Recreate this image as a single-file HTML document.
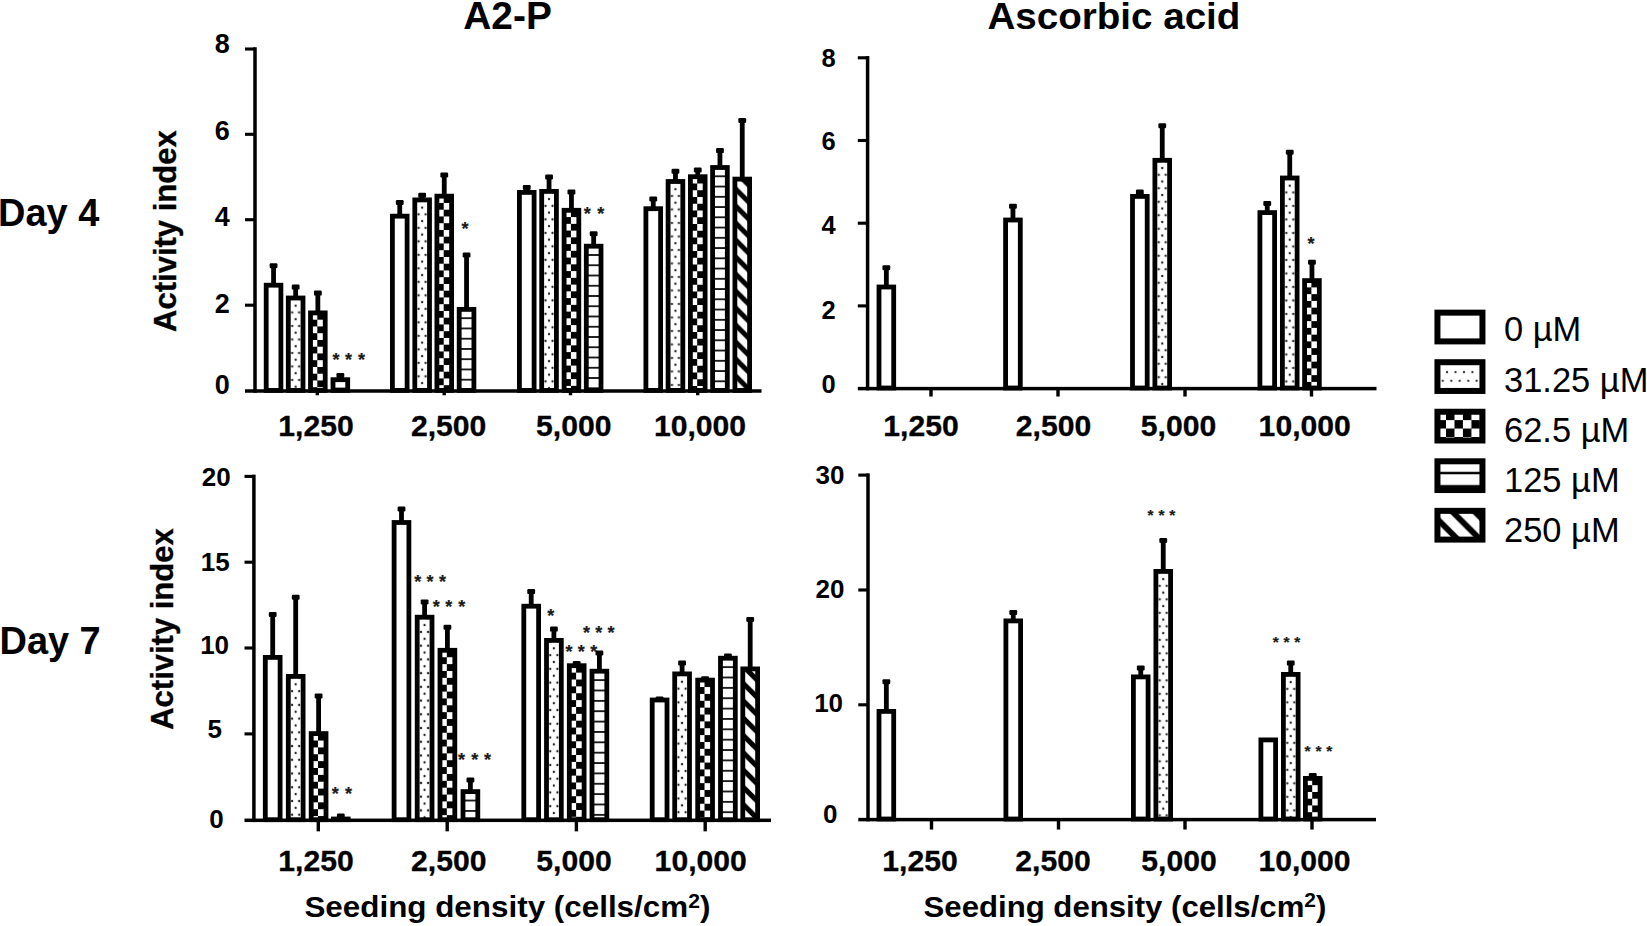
<!DOCTYPE html>
<html lang="en"><head><meta charset="utf-8"><title>Activity index vs seeding density</title>
<style>
html,body{margin:0;padding:0;background:#fff;}
body{width:1647px;height:926px;overflow:hidden;font-family:'Liberation Sans', Arial, Helvetica, sans-serif;}
svg{display:block;font-family:'Liberation Sans', Arial, Helvetica, sans-serif;}
</style></head><body>
<svg width="1647" height="926" viewBox="0 0 1647 926">
<defs>
<pattern id="dots" patternUnits="userSpaceOnUse" x="2.75" y="10.10" width="7.000" height="13.500">
  <rect width="7.000" height="13.500" fill="#fff"/>
  <circle cx="0" cy="0" r="1.15" fill="#222"/><circle cx="7.000" cy="0" r="1.15" fill="#222"/>
  <circle cx="0" cy="13.500" r="1.15" fill="#222"/><circle cx="7.000" cy="13.500" r="1.15" fill="#222"/>
  <circle cx="3.500" cy="6.750" r="1.15" fill="#222"/>
</pattern>
<pattern id="chk" patternUnits="userSpaceOnUse" x="2.45" y="2.45" width="13.500" height="13.500">
  <rect width="13.500" height="13.500" fill="#000"/>
  <rect x="0" y="0" width="6.750" height="6.750" fill="#fff"/>
  <rect x="6.750" y="6.750" width="6.750" height="6.750" fill="#fff"/>
</pattern>
<pattern id="hl" patternUnits="userSpaceOnUse" x="0" y="0.95" width="20" height="10.250">
  <rect width="20" height="10.250" fill="#fff"/>
  <rect x="0" y="-0.9" width="20" height="1.8" fill="#111"/>
  <rect x="0" y="9.350" width="20" height="1.8" fill="#111"/>
</pattern>
<pattern id="dg" patternUnits="userSpaceOnUse" x="0" y="9.15" width="17.000" height="17.000">
  <rect width="17.000" height="17.000" fill="#fff"/>
  <path d="M-20,-74.50 L40,-14.50 L40,-7.50 L-20,-67.50 Z M-20,-57.50 L40,2.50 L40,9.50 L-20,-50.50 Z M-20,-40.50 L40,19.50 L40,26.50 L-20,-33.50 Z M-20,-23.50 L40,36.50 L40,43.50 L-20,-16.50 Z M-20,-6.50 L40,53.50 L40,60.50 L-20,0.50 Z M-20,10.50 L40,70.50 L40,77.50 L-20,17.50 Z" fill="#000"/>
</pattern>
<pattern id="dots3" patternUnits="userSpaceOnUse" x="2.63" y="10.27" width="7.119" height="13.729">
  <rect width="7.119" height="13.729" fill="#fff"/>
  <circle cx="0" cy="0" r="1.15" fill="#222"/><circle cx="7.119" cy="0" r="1.15" fill="#222"/>
  <circle cx="0" cy="13.729" r="1.15" fill="#222"/><circle cx="7.119" cy="13.729" r="1.15" fill="#222"/>
  <circle cx="3.559" cy="6.865" r="1.15" fill="#222"/>
</pattern>
<pattern id="chk3" patternUnits="userSpaceOnUse" x="2.34" y="2.49" width="13.729" height="13.729">
  <rect width="13.729" height="13.729" fill="#000"/>
  <rect x="0" y="0" width="6.865" height="6.865" fill="#fff"/>
  <rect x="6.865" y="6.865" width="6.865" height="6.865" fill="#fff"/>
</pattern>
<pattern id="hl3" patternUnits="userSpaceOnUse" x="0" y="0.97" width="20" height="10.363">
  <rect width="20" height="10.363" fill="#fff"/>
  <rect x="0" y="-0.9" width="20" height="1.8" fill="#111"/>
  <rect x="0" y="9.463" width="20" height="1.8" fill="#111"/>
</pattern>
<pattern id="dg3" patternUnits="userSpaceOnUse" x="0" y="14.10" width="17.289" height="17.289">
  <rect width="17.289" height="17.289" fill="#fff"/>
  <path d="M-20,-75.43 L40,-15.43 L40,-8.31 L-20,-68.31 Z M-20,-58.14 L40,1.86 L40,8.98 L-20,-51.02 Z M-20,-40.85 L40,19.15 L40,26.27 L-20,-33.73 Z M-20,-23.56 L40,36.44 L40,43.56 L-20,-16.44 Z M-20,-6.27 L40,53.73 L40,60.85 L-20,0.85 Z M-20,11.02 L40,71.02 L40,78.14 L-20,18.14 Z" fill="#000"/>
</pattern>
<pattern id="Ldots" patternUnits="userSpaceOnUse" x="4.12" y="12.95" width="8.47" height="17.3">
  <rect width="8.47" height="17.3" fill="#fff"/>
  <circle cx="0" cy="0" r="1.1" fill="#222"/><circle cx="8.47" cy="0" r="1.1" fill="#222"/>
  <circle cx="0" cy="17.3" r="1.1" fill="#222"/><circle cx="8.47" cy="17.3" r="1.1" fill="#222"/>
  <circle cx="4.235" cy="8.65" r="1.1" fill="#222"/>
</pattern>
<pattern id="Lchk" patternUnits="userSpaceOnUse" x="11.57" y="11.36" width="16.9" height="16.9">
  <rect width="16.9" height="16.9" fill="#000"/>
  <rect x="0" y="0" width="8.45" height="8.45" fill="#fff"/>
  <rect x="8.45" y="8.45" width="8.45" height="8.45" fill="#fff"/>
</pattern>
<pattern id="Lhl" patternUnits="userSpaceOnUse" x="0" y="1.55" width="60" height="13.2">
  <rect width="60" height="13.2" fill="#fff"/>
  <rect x="0" y="-1.2" width="60" height="2.4" fill="#000"/>
  <rect x="0" y="12" width="60" height="2.4" fill="#000"/>
</pattern>
<pattern id="Ldg" patternUnits="userSpaceOnUse" x="0" y="0" width="22.4" height="22.4">
  <rect width="22.4" height="22.4" fill="#fff"/>
  <path d="M-5,-45.70 L30,-10.70 L30,-2.30 L-5,-37.30 Z M-5,-23.30 L30,11.70 L30,20.10 L-5,-14.90 Z M-5,-0.90 L30,34.10 L30,42.50 L-5,7.50 Z M-5,21.50 L30,56.50 L30,64.90 L-5,29.90 Z" fill="#000"/>
</pattern>
</defs>
<rect width="1647" height="926" fill="#fff"/>

<text x="463.3" y="28.8" font-size="38.5" font-weight="bold" text-anchor="start" fill="#000" textLength="88.5" lengthAdjust="spacingAndGlyphs">A2-P</text>
<text x="987.4" y="28.6" font-size="37.5" font-weight="bold" text-anchor="start" fill="#000" textLength="253" lengthAdjust="spacingAndGlyphs">Ascorbic acid</text>
<text x="-1.9" y="225.5" font-size="38" font-weight="bold" text-anchor="start" fill="#000" textLength="101.2" lengthAdjust="spacingAndGlyphs">Day 4</text>
<text x="-0.5" y="653.6" font-size="38" font-weight="bold" text-anchor="start" fill="#000" textLength="101.2" lengthAdjust="spacingAndGlyphs">Day 7</text>
<text transform="translate(176.3,331.9) rotate(-90)" font-size="32" font-weight="bold" stroke="#000" stroke-width="0.35" textLength="201.6" lengthAdjust="spacingAndGlyphs">Activity index</text>
<text transform="translate(172.8,729.8) rotate(-90)" font-size="32" font-weight="bold" stroke="#000" stroke-width="0.35" textLength="201.5" lengthAdjust="spacingAndGlyphs">Activity index</text>
<text x="304.4" y="917" font-size="29" font-weight="bold" textLength="406" lengthAdjust="spacingAndGlyphs">Seeding density (cells/cm<tspan font-size="19.5" dy="-9.5">2</tspan><tspan dy="9.5">)</tspan></text>
<text x="923.6" y="916.8" font-size="29" font-weight="bold" textLength="402.8" lengthAdjust="spacingAndGlyphs">Seeding density (cells/cm<tspan font-size="19.5" dy="-9.5">2</tspan><tspan dy="9.5">)</tspan></text>
<rect x="253.25" y="47.25" width="3.5" height="345.50" fill="#000"/>
<rect x="245.00" y="389.25" width="516.50" height="3.5" fill="#000"/>
<rect x="245.00" y="47.45" width="10.00" height="3.1" fill="#000"/>
<rect x="245.00" y="132.75" width="10.00" height="3.1" fill="#000"/>
<rect x="245.00" y="218.15" width="10.00" height="3.1" fill="#000"/>
<rect x="245.00" y="303.65" width="10.00" height="3.1" fill="#000"/>
<rect x="315.60" y="391.00" width="3.4" height="4.25" fill="#000"/>
<rect x="442.50" y="391.00" width="3.4" height="4.25" fill="#000"/>
<rect x="568.80" y="391.00" width="3.4" height="4.25" fill="#000"/>
<rect x="696.00" y="391.00" width="3.4" height="4.25" fill="#000"/>
<text x="222.2" y="52.8" font-size="27" font-weight="bold" text-anchor="middle" fill="#000">8</text>
<text x="222.2" y="140.0" font-size="27" font-weight="bold" text-anchor="middle" fill="#000">6</text>
<text x="222.2" y="226.2" font-size="27" font-weight="bold" text-anchor="middle" fill="#000">4</text>
<text x="222.2" y="313.09999999999997" font-size="27" font-weight="bold" text-anchor="middle" fill="#000">2</text>
<text x="222.2" y="393.59999999999997" font-size="27" font-weight="bold" text-anchor="middle" fill="#000">0</text>
<text transform="translate(316,436) scale(1.005,1)" font-size="30" font-weight="bold" text-anchor="middle" stroke="#000" stroke-width="0.3">1,250</text>
<text transform="translate(448.6,436) scale(1.005,1)" font-size="30" font-weight="bold" text-anchor="middle" stroke="#000" stroke-width="0.3">2,500</text>
<text transform="translate(573.7,436) scale(1.005,1)" font-size="30" font-weight="bold" text-anchor="middle" stroke="#000" stroke-width="0.3">5,000</text>
<text transform="translate(700,436) scale(1.005,1)" font-size="30" font-weight="bold" text-anchor="middle" stroke="#000" stroke-width="0.3">10,000</text>
<rect x="271.15" y="264.30" width="4.8" height="20.50" fill="#000"/>
<rect x="269.65" y="263.30" width="7.8" height="5" rx="1.2" fill="#000"/>
<g transform="translate(263.80,282.80)"><rect x="2.4" y="2.4" width="14.70" height="105.20" fill="#fff"/><rect x="2.4" y="2.4" width="14.70" height="105.20" fill="#fff" stroke="#000" stroke-width="4.8"/></g>
<rect x="293.25" y="285.60" width="4.8" height="12.00" fill="#000"/>
<rect x="291.75" y="284.60" width="7.8" height="5" rx="1.2" fill="#000"/>
<g transform="translate(285.90,295.60)"><rect x="2.4" y="2.4" width="14.70" height="92.40" fill="#fff"/><rect x="2.4" y="2.4" width="14.70" height="92.40" fill="url(#dots)" stroke="#000" stroke-width="4.8"/></g>
<rect x="315.45" y="291.60" width="4.8" height="20.90" fill="#000"/>
<rect x="313.95" y="290.60" width="7.8" height="5" rx="1.2" fill="#000"/>
<g transform="translate(308.10,310.50)"><rect x="2.4" y="2.4" width="14.70" height="77.50" fill="#fff"/><rect x="2.4" y="2.4" width="14.70" height="77.50" fill="url(#chk)" stroke="#000" stroke-width="4.8"/></g>
<rect x="337.95" y="374.00" width="4.8" height="5.30" fill="#000"/>
<rect x="336.45" y="373.00" width="7.8" height="5" rx="1.2" fill="#000"/>
<g transform="translate(330.60,377.30)"><rect x="2.4" y="2.4" width="14.70" height="10.70" fill="#fff"/><rect x="2.4" y="2.4" width="14.70" height="10.70" fill="url(#hl)" stroke="#000" stroke-width="4.8"/></g>
<rect x="397.35" y="201.00" width="4.8" height="14.75" fill="#000"/>
<rect x="395.85" y="200.00" width="7.8" height="5" rx="1.2" fill="#000"/>
<g transform="translate(390.00,213.75)"><rect x="2.4" y="2.4" width="14.70" height="174.25" fill="#fff"/><rect x="2.4" y="2.4" width="14.70" height="174.25" fill="#fff" stroke="#000" stroke-width="4.8"/></g>
<rect x="419.75" y="193.75" width="4.8" height="5.75" fill="#000"/>
<rect x="418.25" y="192.75" width="7.8" height="5" rx="1.2" fill="#000"/>
<g transform="translate(412.40,197.50)"><rect x="2.4" y="2.4" width="14.70" height="190.50" fill="#fff"/><rect x="2.4" y="2.4" width="14.70" height="190.50" fill="url(#dots)" stroke="#000" stroke-width="4.8"/></g>
<rect x="441.85" y="173.50" width="4.8" height="22.25" fill="#000"/>
<rect x="440.35" y="172.50" width="7.8" height="5" rx="1.2" fill="#000"/>
<g transform="translate(434.50,193.75)"><rect x="2.4" y="2.4" width="14.70" height="194.25" fill="#fff"/><rect x="2.4" y="2.4" width="14.70" height="194.25" fill="url(#chk)" stroke="#000" stroke-width="4.8"/></g>
<rect x="464.15" y="253.50" width="4.8" height="55.50" fill="#000"/>
<rect x="462.65" y="252.50" width="7.8" height="5" rx="1.2" fill="#000"/>
<g transform="translate(456.80,307.00)"><rect x="2.4" y="2.4" width="14.70" height="81.00" fill="#fff"/><rect x="2.4" y="2.4" width="14.70" height="81.00" fill="url(#hl)" stroke="#000" stroke-width="4.8"/></g>
<rect x="524.35" y="186.00" width="4.8" height="6.00" fill="#000"/>
<rect x="522.85" y="185.00" width="7.8" height="5" rx="1.2" fill="#000"/>
<g transform="translate(517.00,190.00)"><rect x="2.4" y="2.4" width="14.70" height="198.00" fill="#fff"/><rect x="2.4" y="2.4" width="14.70" height="198.00" fill="#fff" stroke="#000" stroke-width="4.8"/></g>
<rect x="546.65" y="175.40" width="4.8" height="15.60" fill="#000"/>
<rect x="545.15" y="174.40" width="7.8" height="5" rx="1.2" fill="#000"/>
<g transform="translate(539.30,189.00)"><rect x="2.4" y="2.4" width="14.70" height="199.00" fill="#fff"/><rect x="2.4" y="2.4" width="14.70" height="199.00" fill="url(#dots)" stroke="#000" stroke-width="4.8"/></g>
<rect x="569.05" y="190.40" width="4.8" height="19.50" fill="#000"/>
<rect x="567.55" y="189.40" width="7.8" height="5" rx="1.2" fill="#000"/>
<g transform="translate(561.70,207.90)"><rect x="2.4" y="2.4" width="14.70" height="180.10" fill="#fff"/><rect x="2.4" y="2.4" width="14.70" height="180.10" fill="url(#chk)" stroke="#000" stroke-width="4.8"/></g>
<rect x="591.25" y="232.30" width="4.8" height="13.50" fill="#000"/>
<rect x="589.75" y="231.30" width="7.8" height="5" rx="1.2" fill="#000"/>
<g transform="translate(583.90,243.80)"><rect x="2.4" y="2.4" width="14.70" height="144.20" fill="#fff"/><rect x="2.4" y="2.4" width="14.70" height="144.20" fill="url(#hl)" stroke="#000" stroke-width="4.8"/></g>
<rect x="650.85" y="197.40" width="4.8" height="10.90" fill="#000"/>
<rect x="649.35" y="196.40" width="7.8" height="5" rx="1.2" fill="#000"/>
<g transform="translate(643.50,206.30)"><rect x="2.4" y="2.4" width="14.70" height="181.70" fill="#fff"/><rect x="2.4" y="2.4" width="14.70" height="181.70" fill="#fff" stroke="#000" stroke-width="4.8"/></g>
<rect x="673.05" y="169.70" width="4.8" height="11.40" fill="#000"/>
<rect x="671.55" y="168.70" width="7.8" height="5" rx="1.2" fill="#000"/>
<g transform="translate(665.70,179.10)"><rect x="2.4" y="2.4" width="14.70" height="208.90" fill="#fff"/><rect x="2.4" y="2.4" width="14.70" height="208.90" fill="url(#dots)" stroke="#000" stroke-width="4.8"/></g>
<rect x="695.35" y="168.50" width="4.8" height="7.80" fill="#000"/>
<rect x="693.85" y="167.50" width="7.8" height="5" rx="1.2" fill="#000"/>
<g transform="translate(688.00,174.30)"><rect x="2.4" y="2.4" width="14.70" height="213.70" fill="#fff"/><rect x="2.4" y="2.4" width="14.70" height="213.70" fill="url(#chk)" stroke="#000" stroke-width="4.8"/></g>
<rect x="717.55" y="149.10" width="4.8" height="18.00" fill="#000"/>
<rect x="716.05" y="148.10" width="7.8" height="5" rx="1.2" fill="#000"/>
<g transform="translate(710.20,165.10)"><rect x="2.4" y="2.4" width="14.70" height="222.90" fill="#fff"/><rect x="2.4" y="2.4" width="14.70" height="222.90" fill="url(#hl)" stroke="#000" stroke-width="4.8"/></g>
<rect x="739.85" y="119.00" width="4.8" height="59.70" fill="#000"/>
<rect x="738.35" y="118.00" width="7.8" height="5" rx="1.2" fill="#000"/>
<g transform="translate(732.50,176.70)"><rect x="2.4" y="2.4" width="14.70" height="211.30" fill="#fff"/><rect x="2.4" y="2.4" width="14.70" height="211.30" fill="url(#dg)" stroke="#000" stroke-width="4.8"/></g>
<text x="335.9" y="366.2" font-size="18" font-weight="bold" text-anchor="middle" fill="#1a1a1a" stroke="#1a1a1a" stroke-width="0.2">*</text>
<text x="348.5" y="366.2" font-size="18" font-weight="bold" text-anchor="middle" fill="#1a1a1a" stroke="#1a1a1a" stroke-width="0.2">*</text>
<text x="361.4" y="366.2" font-size="18" font-weight="bold" text-anchor="middle" fill="#1a1a1a" stroke="#1a1a1a" stroke-width="0.2">*</text>
<text x="465.1" y="235.1" font-size="18" font-weight="bold" text-anchor="middle" fill="#1a1a1a" stroke="#1a1a1a" stroke-width="0.2">*</text>
<text x="587.2" y="220.4" font-size="18" font-weight="bold" text-anchor="middle" fill="#1a1a1a" stroke="#1a1a1a" stroke-width="0.2">*</text>
<text x="600.8" y="220.4" font-size="18" font-weight="bold" text-anchor="middle" fill="#1a1a1a" stroke="#1a1a1a" stroke-width="0.2">*</text>
<rect x="865.85" y="56.05" width="3.5" height="334.30" fill="#000"/>
<rect x="857.80" y="386.85" width="518.70" height="3.5" fill="#000"/>
<rect x="857.80" y="56.25" width="9.80" height="3.1" fill="#000"/>
<rect x="857.80" y="138.95" width="9.80" height="3.1" fill="#000"/>
<rect x="857.80" y="221.65" width="9.80" height="3.1" fill="#000"/>
<rect x="857.80" y="304.35" width="9.80" height="3.1" fill="#000"/>
<rect x="929.30" y="388.60" width="3.4" height="7.95" fill="#000"/>
<rect x="1056.30" y="388.60" width="3.4" height="7.95" fill="#000"/>
<rect x="1183.30" y="388.60" width="3.4" height="7.95" fill="#000"/>
<rect x="1309.80" y="388.60" width="3.4" height="7.95" fill="#000"/>
<text x="828.7" y="66.9" font-size="25.5" font-weight="bold" text-anchor="middle" fill="#000">8</text>
<text x="828.7" y="150.0" font-size="25.5" font-weight="bold" text-anchor="middle" fill="#000">6</text>
<text x="828.7" y="233.7" font-size="25.5" font-weight="bold" text-anchor="middle" fill="#000">4</text>
<text x="828.7" y="319.2" font-size="25.5" font-weight="bold" text-anchor="middle" fill="#000">2</text>
<text x="828.7" y="393.2" font-size="25.5" font-weight="bold" text-anchor="middle" fill="#000">0</text>
<text transform="translate(921,435.6) scale(1.005,1)" font-size="30" font-weight="bold" text-anchor="middle" stroke="#000" stroke-width="0.3">1,250</text>
<text transform="translate(1053.5,435.6) scale(1.005,1)" font-size="30" font-weight="bold" text-anchor="middle" stroke="#000" stroke-width="0.3">2,500</text>
<text transform="translate(1178.5,435.6) scale(1.005,1)" font-size="30" font-weight="bold" text-anchor="middle" stroke="#000" stroke-width="0.3">5,000</text>
<text transform="translate(1304.7,435.6) scale(1.005,1)" font-size="30" font-weight="bold" text-anchor="middle" stroke="#000" stroke-width="0.3">10,000</text>
<rect x="883.95" y="266.20" width="4.8" height="20.40" fill="#000"/>
<rect x="882.45" y="265.20" width="7.8" height="5" rx="1.2" fill="#000"/>
<g transform="translate(876.60,284.60)"><rect x="2.4" y="2.4" width="14.70" height="101.00" fill="#fff"/><rect x="2.4" y="2.4" width="14.70" height="101.00" fill="#fff" stroke="#000" stroke-width="4.8"/></g>
<rect x="1010.55" y="204.80" width="4.8" height="14.80" fill="#000"/>
<rect x="1009.05" y="203.80" width="7.8" height="5" rx="1.2" fill="#000"/>
<g transform="translate(1003.20,217.60)"><rect x="2.4" y="2.4" width="14.70" height="168.00" fill="#fff"/><rect x="2.4" y="2.4" width="14.70" height="168.00" fill="#fff" stroke="#000" stroke-width="4.8"/></g>
<rect x="1137.45" y="190.60" width="4.8" height="5.40" fill="#000"/>
<rect x="1135.95" y="189.60" width="7.8" height="5" rx="1.2" fill="#000"/>
<g transform="translate(1130.10,194.00)"><rect x="2.4" y="2.4" width="14.70" height="191.60" fill="#fff"/><rect x="2.4" y="2.4" width="14.70" height="191.60" fill="#fff" stroke="#000" stroke-width="4.8"/></g>
<rect x="1159.85" y="124.30" width="4.8" height="35.60" fill="#000"/>
<rect x="1158.35" y="123.30" width="7.8" height="5" rx="1.2" fill="#000"/>
<g transform="translate(1152.50,157.90)"><rect x="2.4" y="2.4" width="14.70" height="227.70" fill="#fff"/><rect x="2.4" y="2.4" width="14.70" height="227.70" fill="url(#dots)" stroke="#000" stroke-width="4.8"/></g>
<rect x="1264.85" y="201.90" width="4.8" height="10.30" fill="#000"/>
<rect x="1263.35" y="200.90" width="7.8" height="5" rx="1.2" fill="#000"/>
<g transform="translate(1257.50,210.20)"><rect x="2.4" y="2.4" width="14.70" height="175.40" fill="#fff"/><rect x="2.4" y="2.4" width="14.70" height="175.40" fill="#fff" stroke="#000" stroke-width="4.8"/></g>
<rect x="1287.35" y="150.70" width="4.8" height="26.90" fill="#000"/>
<rect x="1285.85" y="149.70" width="7.8" height="5" rx="1.2" fill="#000"/>
<g transform="translate(1280.00,175.60)"><rect x="2.4" y="2.4" width="14.70" height="210.00" fill="#fff"/><rect x="2.4" y="2.4" width="14.70" height="210.00" fill="url(#dots)" stroke="#000" stroke-width="4.8"/></g>
<rect x="1309.55" y="260.80" width="4.8" height="19.40" fill="#000"/>
<rect x="1308.05" y="259.80" width="7.8" height="5" rx="1.2" fill="#000"/>
<g transform="translate(1302.20,278.20)"><rect x="2.4" y="2.4" width="14.70" height="107.40" fill="#fff"/><rect x="2.4" y="2.4" width="14.70" height="107.40" fill="url(#chk)" stroke="#000" stroke-width="4.8"/></g>
<text x="1310.9" y="250.3" font-size="18" font-weight="bold" text-anchor="middle" fill="#1a1a1a" stroke="#1a1a1a" stroke-width="0.2">*</text>
<rect x="252.15" y="474.65" width="3.5" height="347.40" fill="#000"/>
<rect x="244.50" y="818.55" width="526.50" height="3.5" fill="#000"/>
<rect x="244.50" y="474.85" width="9.40" height="3.1" fill="#000"/>
<rect x="244.50" y="560.65" width="9.40" height="3.1" fill="#000"/>
<rect x="244.50" y="646.45" width="9.40" height="3.1" fill="#000"/>
<rect x="244.50" y="732.35" width="9.40" height="3.1" fill="#000"/>
<rect x="316.60" y="820.30" width="3.4" height="11.05" fill="#000"/>
<rect x="445.50" y="820.30" width="3.4" height="11.05" fill="#000"/>
<rect x="574.70" y="820.30" width="3.4" height="11.05" fill="#000"/>
<rect x="703.50" y="820.30" width="3.4" height="11.05" fill="#000"/>
<text x="216.3" y="486.2" font-size="26" font-weight="bold" text-anchor="middle" fill="#000">20</text>
<text x="215.3" y="571.0" font-size="26" font-weight="bold" text-anchor="middle" fill="#000">15</text>
<text x="214.6" y="653.6999999999999" font-size="26" font-weight="bold" text-anchor="middle" fill="#000">10</text>
<text x="214.8" y="738.3" font-size="26" font-weight="bold" text-anchor="middle" fill="#000">5</text>
<text x="216.4" y="827.5999999999999" font-size="26" font-weight="bold" text-anchor="middle" fill="#000">0</text>
<text transform="translate(316,870.6) scale(1.005,1)" font-size="30" font-weight="bold" text-anchor="middle" stroke="#000" stroke-width="0.3">1,250</text>
<text transform="translate(448.7,870.6) scale(1.005,1)" font-size="30" font-weight="bold" text-anchor="middle" stroke="#000" stroke-width="0.3">2,500</text>
<text transform="translate(574,870.6) scale(1.005,1)" font-size="30" font-weight="bold" text-anchor="middle" stroke="#000" stroke-width="0.3">5,000</text>
<text transform="translate(700.7,870.6) scale(1.005,1)" font-size="30" font-weight="bold" text-anchor="middle" stroke="#000" stroke-width="0.3">10,000</text>
<rect x="270.30" y="612.90" width="4.8" height="44.10" fill="#000"/>
<rect x="268.80" y="611.90" width="7.8" height="5" rx="1.2" fill="#000"/>
<g transform="translate(262.90,655.00)"><rect x="2.4" y="2.4" width="14.80" height="162.30" fill="#fff"/><rect x="2.4" y="2.4" width="14.80" height="162.30" fill="#fff" stroke="#000" stroke-width="4.8"/></g>
<rect x="293.30" y="595.80" width="4.8" height="80.20" fill="#000"/>
<rect x="291.80" y="594.80" width="7.8" height="5" rx="1.2" fill="#000"/>
<g transform="translate(285.90,674.00)"><rect x="2.4" y="2.4" width="14.80" height="143.30" fill="#fff"/><rect x="2.4" y="2.4" width="14.80" height="143.30" fill="url(#dots3)" stroke="#000" stroke-width="4.8"/></g>
<rect x="316.20" y="694.40" width="4.8" height="38.80" fill="#000"/>
<rect x="314.70" y="693.40" width="7.8" height="5" rx="1.2" fill="#000"/>
<g transform="translate(308.80,731.20)"><rect x="2.4" y="2.4" width="14.80" height="86.10" fill="#fff"/><rect x="2.4" y="2.4" width="14.80" height="86.10" fill="url(#chk3)" stroke="#000" stroke-width="4.8"/></g>
<rect x="338.40" y="814.50" width="4.8" height="4.10" fill="#000"/>
<rect x="336.90" y="813.50" width="7.8" height="5" rx="1.2" fill="#000"/>
<g transform="translate(331.00,816.60)"><rect x="2.4" y="2.4" width="14.80" height="0.70" fill="#fff"/><rect x="2.4" y="2.4" width="14.80" height="0.70" fill="url(#hl3)" stroke="#000" stroke-width="4.8"/></g>
<rect x="399.10" y="507.50" width="4.8" height="14.60" fill="#000"/>
<rect x="397.60" y="506.50" width="7.8" height="5" rx="1.2" fill="#000"/>
<g transform="translate(391.70,520.10)"><rect x="2.4" y="2.4" width="14.80" height="297.20" fill="#fff"/><rect x="2.4" y="2.4" width="14.80" height="297.20" fill="#fff" stroke="#000" stroke-width="4.8"/></g>
<rect x="422.20" y="600.40" width="4.8" height="16.40" fill="#000"/>
<rect x="420.70" y="599.40" width="7.8" height="5" rx="1.2" fill="#000"/>
<g transform="translate(414.80,614.80)"><rect x="2.4" y="2.4" width="14.80" height="202.50" fill="#fff"/><rect x="2.4" y="2.4" width="14.80" height="202.50" fill="url(#dots3)" stroke="#000" stroke-width="4.8"/></g>
<rect x="445.00" y="625.80" width="4.8" height="24.10" fill="#000"/>
<rect x="443.50" y="624.80" width="7.8" height="5" rx="1.2" fill="#000"/>
<g transform="translate(437.60,647.90)"><rect x="2.4" y="2.4" width="14.80" height="169.40" fill="#fff"/><rect x="2.4" y="2.4" width="14.80" height="169.40" fill="url(#chk3)" stroke="#000" stroke-width="4.8"/></g>
<rect x="468.00" y="778.50" width="4.8" height="12.70" fill="#000"/>
<rect x="466.50" y="777.50" width="7.8" height="5" rx="1.2" fill="#000"/>
<g transform="translate(460.60,789.20)"><rect x="2.4" y="2.4" width="14.80" height="28.10" fill="#fff"/><rect x="2.4" y="2.4" width="14.80" height="28.10" fill="url(#hl3)" stroke="#000" stroke-width="4.8"/></g>
<rect x="528.80" y="590.10" width="4.8" height="15.70" fill="#000"/>
<rect x="527.30" y="589.10" width="7.8" height="5" rx="1.2" fill="#000"/>
<g transform="translate(521.40,603.80)"><rect x="2.4" y="2.4" width="14.80" height="213.50" fill="#fff"/><rect x="2.4" y="2.4" width="14.80" height="213.50" fill="#fff" stroke="#000" stroke-width="4.8"/></g>
<rect x="551.50" y="627.60" width="4.8" height="12.40" fill="#000"/>
<rect x="550.00" y="626.60" width="7.8" height="5" rx="1.2" fill="#000"/>
<g transform="translate(544.10,638.00)"><rect x="2.4" y="2.4" width="14.80" height="179.30" fill="#fff"/><rect x="2.4" y="2.4" width="14.80" height="179.30" fill="url(#dots3)" stroke="#000" stroke-width="4.8"/></g>
<rect x="574.30" y="662.10" width="4.8" height="3.20" fill="#000"/>
<rect x="572.80" y="661.10" width="7.8" height="5" rx="1.2" fill="#000"/>
<g transform="translate(566.90,663.30)"><rect x="2.4" y="2.4" width="14.80" height="154.00" fill="#fff"/><rect x="2.4" y="2.4" width="14.80" height="154.00" fill="url(#chk3)" stroke="#000" stroke-width="4.8"/></g>
<rect x="597.00" y="651.50" width="4.8" height="19.30" fill="#000"/>
<rect x="595.50" y="650.50" width="7.8" height="5" rx="1.2" fill="#000"/>
<g transform="translate(589.60,668.80)"><rect x="2.4" y="2.4" width="14.80" height="148.50" fill="#fff"/><rect x="2.4" y="2.4" width="14.80" height="148.50" fill="url(#hl3)" stroke="#000" stroke-width="4.8"/></g>
<rect x="657.20" y="697.40" width="4.8" height="2.20" fill="#000"/>
<rect x="655.70" y="696.40" width="7.8" height="5" rx="1.2" fill="#000"/>
<g transform="translate(649.80,697.60)"><rect x="2.4" y="2.4" width="14.80" height="119.70" fill="#fff"/><rect x="2.4" y="2.4" width="14.80" height="119.70" fill="#fff" stroke="#000" stroke-width="4.8"/></g>
<rect x="679.70" y="661.40" width="4.8" height="12.10" fill="#000"/>
<rect x="678.20" y="660.40" width="7.8" height="5" rx="1.2" fill="#000"/>
<g transform="translate(672.30,671.50)"><rect x="2.4" y="2.4" width="14.80" height="145.80" fill="#fff"/><rect x="2.4" y="2.4" width="14.80" height="145.80" fill="url(#dots3)" stroke="#000" stroke-width="4.8"/></g>
<rect x="702.70" y="677.30" width="4.8" height="2.40" fill="#000"/>
<rect x="701.20" y="676.30" width="7.8" height="5" rx="1.2" fill="#000"/>
<g transform="translate(695.30,677.70)"><rect x="2.4" y="2.4" width="14.80" height="139.60" fill="#fff"/><rect x="2.4" y="2.4" width="14.80" height="139.60" fill="url(#chk3)" stroke="#000" stroke-width="4.8"/></g>
<rect x="725.50" y="654.40" width="4.8" height="3.40" fill="#000"/>
<rect x="724.00" y="653.40" width="7.8" height="5" rx="1.2" fill="#000"/>
<g transform="translate(718.10,655.80)"><rect x="2.4" y="2.4" width="14.80" height="161.50" fill="#fff"/><rect x="2.4" y="2.4" width="14.80" height="161.50" fill="url(#hl3)" stroke="#000" stroke-width="4.8"/></g>
<rect x="747.80" y="617.90" width="4.8" height="50.60" fill="#000"/>
<rect x="746.30" y="616.90" width="7.8" height="5" rx="1.2" fill="#000"/>
<g transform="translate(740.40,666.50)"><rect x="2.4" y="2.4" width="14.80" height="150.80" fill="#fff"/><rect x="2.4" y="2.4" width="14.80" height="150.80" fill="url(#dg3)" stroke="#000" stroke-width="4.8"/></g>
<text x="335.3" y="800.1" font-size="18" font-weight="bold" text-anchor="middle" fill="#1a1a1a" stroke="#1a1a1a" stroke-width="0.2">*</text>
<text x="348.4" y="800.1" font-size="18" font-weight="bold" text-anchor="middle" fill="#1a1a1a" stroke="#1a1a1a" stroke-width="0.2">*</text>
<text x="417.8" y="587.7" font-size="18" font-weight="bold" text-anchor="middle" fill="#1a1a1a" stroke="#1a1a1a" stroke-width="0.2">*</text>
<text x="430.1" y="587.7" font-size="18" font-weight="bold" text-anchor="middle" fill="#1a1a1a" stroke="#1a1a1a" stroke-width="0.2">*</text>
<text x="442.5" y="587.7" font-size="18" font-weight="bold" text-anchor="middle" fill="#1a1a1a" stroke="#1a1a1a" stroke-width="0.2">*</text>
<text x="436.3" y="613.0" font-size="18" font-weight="bold" text-anchor="middle" fill="#1a1a1a" stroke="#1a1a1a" stroke-width="0.2">*</text>
<text x="448.7" y="613.0" font-size="18" font-weight="bold" text-anchor="middle" fill="#1a1a1a" stroke="#1a1a1a" stroke-width="0.2">*</text>
<text x="461.8" y="613.0" font-size="18" font-weight="bold" text-anchor="middle" fill="#1a1a1a" stroke="#1a1a1a" stroke-width="0.2">*</text>
<text x="461.5" y="765.7" font-size="18" font-weight="bold" text-anchor="middle" fill="#1a1a1a" stroke="#1a1a1a" stroke-width="0.2">*</text>
<text x="474.7" y="765.7" font-size="18" font-weight="bold" text-anchor="middle" fill="#1a1a1a" stroke="#1a1a1a" stroke-width="0.2">*</text>
<text x="487.6" y="765.7" font-size="18" font-weight="bold" text-anchor="middle" fill="#1a1a1a" stroke="#1a1a1a" stroke-width="0.2">*</text>
<text x="550.7" y="621.8" font-size="18" font-weight="bold" text-anchor="middle" fill="#1a1a1a" stroke="#1a1a1a" stroke-width="0.2">*</text>
<text x="586.4" y="638.7" font-size="18" font-weight="bold" text-anchor="middle" fill="#1a1a1a" stroke="#1a1a1a" stroke-width="0.2">*</text>
<text x="598.8" y="638.7" font-size="18" font-weight="bold" text-anchor="middle" fill="#1a1a1a" stroke="#1a1a1a" stroke-width="0.2">*</text>
<text x="611.0" y="638.7" font-size="18" font-weight="bold" text-anchor="middle" fill="#1a1a1a" stroke="#1a1a1a" stroke-width="0.2">*</text>
<text x="569.1" y="657.8" font-size="18" font-weight="bold" text-anchor="middle" fill="#1a1a1a" stroke="#1a1a1a" stroke-width="0.2">*</text>
<text x="581.2" y="657.8" font-size="18" font-weight="bold" text-anchor="middle" fill="#1a1a1a" stroke="#1a1a1a" stroke-width="0.2">*</text>
<text x="593.7" y="657.8" font-size="18" font-weight="bold" text-anchor="middle" fill="#1a1a1a" stroke="#1a1a1a" stroke-width="0.2">*</text>
<rect x="866.25" y="473.35" width="3.5" height="348.00" fill="#000"/>
<rect x="858.30" y="817.85" width="517.70" height="3.5" fill="#000"/>
<rect x="858.30" y="473.55" width="9.70" height="3.1" fill="#000"/>
<rect x="858.30" y="588.45" width="9.70" height="3.1" fill="#000"/>
<rect x="858.30" y="703.25" width="9.70" height="3.1" fill="#000"/>
<rect x="929.80" y="819.60" width="3.4" height="9.95" fill="#000"/>
<rect x="1056.80" y="819.60" width="3.4" height="9.95" fill="#000"/>
<rect x="1183.30" y="819.60" width="3.4" height="9.95" fill="#000"/>
<rect x="1310.30" y="819.60" width="3.4" height="9.95" fill="#000"/>
<text x="830" y="483.5" font-size="26" font-weight="bold" text-anchor="middle" fill="#000">30</text>
<text x="830" y="597.8" font-size="26" font-weight="bold" text-anchor="middle" fill="#000">20</text>
<text x="828.6" y="711.6999999999999" font-size="26" font-weight="bold" text-anchor="middle" fill="#000">10</text>
<text x="830.2" y="822.9" font-size="26" font-weight="bold" text-anchor="middle" fill="#000">0</text>
<text transform="translate(920,870.6) scale(1.005,1)" font-size="30" font-weight="bold" text-anchor="middle" stroke="#000" stroke-width="0.3">1,250</text>
<text transform="translate(1053,870.6) scale(1.005,1)" font-size="30" font-weight="bold" text-anchor="middle" stroke="#000" stroke-width="0.3">2,500</text>
<text transform="translate(1179,870.6) scale(1.005,1)" font-size="30" font-weight="bold" text-anchor="middle" stroke="#000" stroke-width="0.3">5,000</text>
<text transform="translate(1304.5,870.6) scale(1.005,1)" font-size="30" font-weight="bold" text-anchor="middle" stroke="#000" stroke-width="0.3">10,000</text>
<rect x="883.95" y="680.20" width="4.8" height="30.80" fill="#000"/>
<rect x="882.45" y="679.20" width="7.8" height="5" rx="1.2" fill="#000"/>
<g transform="translate(876.60,709.00)"><rect x="2.4" y="2.4" width="14.70" height="107.60" fill="#fff"/><rect x="2.4" y="2.4" width="14.70" height="107.60" fill="#fff" stroke="#000" stroke-width="4.8"/></g>
<rect x="1010.85" y="611.00" width="4.8" height="9.50" fill="#000"/>
<rect x="1009.35" y="610.00" width="7.8" height="5" rx="1.2" fill="#000"/>
<g transform="translate(1003.50,618.50)"><rect x="2.4" y="2.4" width="14.70" height="198.10" fill="#fff"/><rect x="2.4" y="2.4" width="14.70" height="198.10" fill="#fff" stroke="#000" stroke-width="4.8"/></g>
<rect x="1138.35" y="666.50" width="4.8" height="10.00" fill="#000"/>
<rect x="1136.85" y="665.50" width="7.8" height="5" rx="1.2" fill="#000"/>
<g transform="translate(1131.00,674.50)"><rect x="2.4" y="2.4" width="14.70" height="142.10" fill="#fff"/><rect x="2.4" y="2.4" width="14.70" height="142.10" fill="#fff" stroke="#000" stroke-width="4.8"/></g>
<rect x="1160.85" y="539.00" width="4.8" height="32.00" fill="#000"/>
<rect x="1159.35" y="538.00" width="7.8" height="5" rx="1.2" fill="#000"/>
<g transform="translate(1153.50,569.00)"><rect x="2.4" y="2.4" width="14.70" height="247.60" fill="#fff"/><rect x="2.4" y="2.4" width="14.70" height="247.60" fill="url(#dots)" stroke="#000" stroke-width="4.8"/></g>
<g transform="translate(1258.50,737.50)"><rect x="2.4" y="2.4" width="14.70" height="79.10" fill="#fff"/><rect x="2.4" y="2.4" width="14.70" height="79.10" fill="#fff" stroke="#000" stroke-width="4.8"/></g>
<rect x="1288.35" y="661.60" width="4.8" height="12.40" fill="#000"/>
<rect x="1286.85" y="660.60" width="7.8" height="5" rx="1.2" fill="#000"/>
<g transform="translate(1281.00,672.00)"><rect x="2.4" y="2.4" width="14.70" height="144.60" fill="#fff"/><rect x="2.4" y="2.4" width="14.70" height="144.60" fill="url(#dots)" stroke="#000" stroke-width="4.8"/></g>
<rect x="1310.35" y="774.00" width="4.8" height="4.00" fill="#000"/>
<rect x="1308.85" y="773.00" width="7.8" height="5" rx="1.2" fill="#000"/>
<g transform="translate(1303.00,776.00)"><rect x="2.4" y="2.4" width="14.70" height="40.60" fill="#fff"/><rect x="2.4" y="2.4" width="14.70" height="40.60" fill="url(#chk)" stroke="#000" stroke-width="4.8"/></g>
<text x="1150.6" y="519.5" font-size="15.5" font-weight="bold" text-anchor="middle" fill="#1a1a1a" stroke="#1a1a1a" stroke-width="0.2">*</text>
<text x="1161.4" y="519.5" font-size="15.5" font-weight="bold" text-anchor="middle" fill="#1a1a1a" stroke="#1a1a1a" stroke-width="0.2">*</text>
<text x="1172.2" y="519.5" font-size="15.5" font-weight="bold" text-anchor="middle" fill="#1a1a1a" stroke="#1a1a1a" stroke-width="0.2">*</text>
<text x="1275.7" y="646.5" font-size="15.5" font-weight="bold" text-anchor="middle" fill="#1a1a1a" stroke="#1a1a1a" stroke-width="0.2">*</text>
<text x="1286.5" y="646.5" font-size="15.5" font-weight="bold" text-anchor="middle" fill="#1a1a1a" stroke="#1a1a1a" stroke-width="0.2">*</text>
<text x="1297.3" y="646.5" font-size="15.5" font-weight="bold" text-anchor="middle" fill="#1a1a1a" stroke="#1a1a1a" stroke-width="0.2">*</text>
<text x="1307.6" y="756.2" font-size="15.5" font-weight="bold" text-anchor="middle" fill="#1a1a1a" stroke="#1a1a1a" stroke-width="0.2">*</text>
<text x="1318.4" y="756.2" font-size="15.5" font-weight="bold" text-anchor="middle" fill="#1a1a1a" stroke="#1a1a1a" stroke-width="0.2">*</text>
<text x="1329.2" y="756.2" font-size="15.5" font-weight="bold" text-anchor="middle" fill="#1a1a1a" stroke="#1a1a1a" stroke-width="0.2">*</text>
<g transform="translate(1434.45,309.65)"><rect x="3.0" y="3.0" width="45.00" height="28.75" fill="#fff" stroke="#000" stroke-width="6.0"/></g>
<text transform="translate(1504.0,341.4) scale(0.985,1)" font-size="35" font-weight="normal" fill="#000">0 µM</text>
<g transform="translate(1434.45,359.20)"><rect x="3.0" y="3.0" width="45.00" height="28.75" fill="url(#Ldots)" stroke="#000" stroke-width="6.0"/></g>
<text transform="translate(1504.0,391.5) scale(0.985,1)" font-size="35" font-weight="normal" fill="#000">31.25 µM</text>
<g transform="translate(1434.45,408.75)"><rect x="3.0" y="3.0" width="45.00" height="28.75" fill="url(#Lchk)" stroke="#000" stroke-width="6.0"/></g>
<text transform="translate(1504.0,441.8) scale(0.985,1)" font-size="35" font-weight="normal" fill="#000">62.5 µM</text>
<g transform="translate(1434.45,458.30)"><rect x="3.0" y="3.0" width="45.00" height="28.75" fill="url(#Lhl)" stroke="#000" stroke-width="6.0"/></g>
<text transform="translate(1504.0,492.3) scale(0.985,1)" font-size="35" font-weight="normal" fill="#000">125 µM</text>
<g transform="translate(1434.45,507.85)"><rect x="3.0" y="3.0" width="45.00" height="28.75" fill="url(#Ldg)" stroke="#000" stroke-width="6.0"/></g>
<text transform="translate(1504.0,542.1) scale(0.985,1)" font-size="35" font-weight="normal" fill="#000">250 µM</text>
</svg>
</body></html>
